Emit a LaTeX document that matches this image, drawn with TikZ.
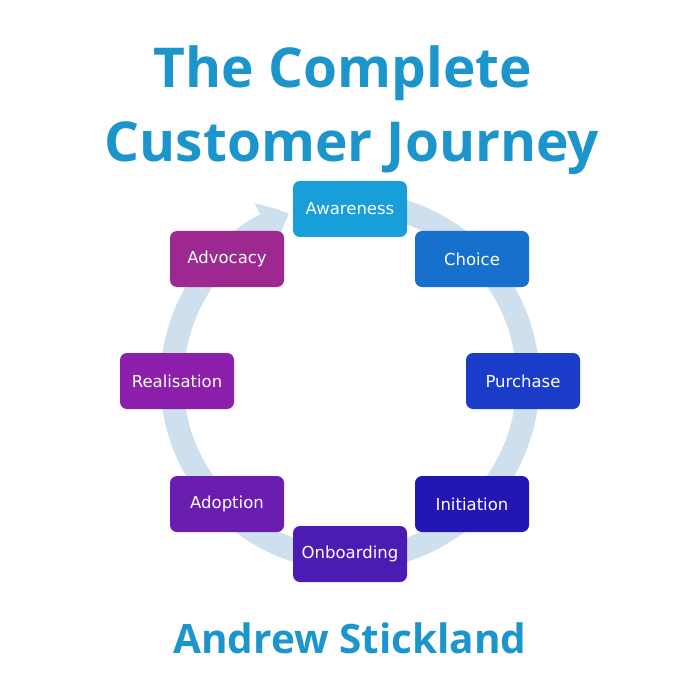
\documentclass[tikz,border=0pt]{standalone}
\usepackage{fontspec}
\setmainfont{DejaVu Sans}
\newfontfamily\titlefont{Open Sans}[BoldFont={* Bold}]
\usetikzlibrary{arrows.meta,bending}
\definecolor{titleblue}{HTML}{1B95CC}
\definecolor{bandblue}{HTML}{CEDFEE}
\definecolor{cA}{HTML}{189ED8}
\definecolor{cB}{HTML}{1670CC}
\definecolor{cC}{HTML}{1A3CC8}
\definecolor{cD}{HTML}{2416B4}
\definecolor{cE}{HTML}{4A1CB4}
\definecolor{cF}{HTML}{6A1EB0}
\definecolor{cG}{HTML}{8C20AC}
\definecolor{cH}{HTML}{9C2890}
\tikzset{
  stagebox/.style={rounded corners=7pt, minimum width=114pt, minimum height=56pt,
    inner sep=0pt, text=white, font=\fontsize{16.5}{19}\selectfont},
  band/.style={draw=bandblue, line width=23pt},
  titletext/.style={text=titleblue, font=\titlefont\bfseries\fontsize{55}{60}\selectfont, anchor=base, inner sep=0pt},
}
\begin{document}
\begin{tikzpicture}[x=1pt,y=1pt]
\fill[white] (0,0) rectangle (700,-700);
\useasboundingbox (0,0) rectangle (700,-700);
\coordinate (ctr) at (350,-381);
\node[titletext] (t1) at (343,-88) {The Complete};
\node[titletext] (t2) at (352,-162) {Customer Journey};
\node[titletext, font=\titlefont\bfseries\fontsize{40.5}{45}\selectfont] (auth) at (350,-653) {Andrew Stickland};
\draw[band, -{Triangle[length=26pt,width=46pt,bend]}] (ctr) ++(78:178) arc[start angle=78, end angle=-250, radius=178];
\node[stagebox, fill=cA] (aw) at (350,-209) {Awareness};
\node[stagebox, fill=cB] (ch) at (472,-259) {Choice};
\node[stagebox, fill=cC] (pu) at (523,-381) {Purchase};
\node[stagebox, fill=cD] (in) at (472,-504) {Initiation};
\node[stagebox, fill=cE] (on) at (350,-554) {Onboarding};
\node[stagebox, fill=cF] (ad) at (227,-504) {Adoption};
\node[stagebox, fill=cG] (re) at (177,-381) {Realisation};
\node[stagebox, fill=cH] (av) at (227,-259) {Advocacy};
\end{tikzpicture}
\end{document}
